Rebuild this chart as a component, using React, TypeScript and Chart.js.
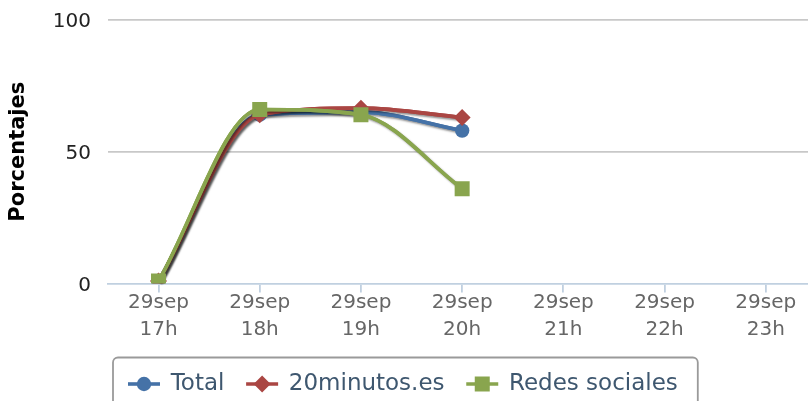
import React, { useEffect, useRef } from 'react';
import { Chart, registerables } from 'chart.js';

Chart.register(...registerables);

// ---- data ----
const dayLabels = ['29sep', '29sep', '29sep', '29sep', '29sep', '29sep', '29sep'];
const hourLabels = ['17h', '18h', '19h', '20h', '21h', '22h', '23h'];
const seriesNames = ['Total', '20minutos.es', 'Redes sociales'];
const totalValues = [1, 64, 65, 58, null, null, null];
const minutosValues = [1, 64, 66.5, 63, null, null, null];
const redesValues = [1, 66, 64, 36, null, null, null];
const yTickValues = [0, 50, 100];
const yAxisTitle = 'Porcentajes';

const seriesColors = ['#4572A7', '#AA4643', '#89A54E'];
const seriesPointStyles = ['circle', 'rectRot', 'rect'];
const seriesPointRadius = [7.2, 8.5, 10.6];

const FONT = '"DejaVu Sans", sans-serif';

function drawMarker(ctx: CanvasRenderingContext2D, style: string, x: number, y: number, r: number, color: string) {
  ctx.fillStyle = color;
  ctx.beginPath();
  if (style === 'circle') {
    ctx.arc(x, y, r, 0, Math.PI * 2);
  } else if (style === 'rectRot') {
    ctx.moveTo(x, y - r);
    ctx.lineTo(x + r, y);
    ctx.lineTo(x, y + r);
    ctx.lineTo(x - r, y);
    ctx.closePath();
  } else {
    const s = r * Math.SQRT1_2;
    ctx.rect(x - s, y - s, 2 * s, 2 * s);
  }
  ctx.fill();
}

const shadowPlugin = {
  id: 'lineShadow',
  beforeDatasetDraw(chart: any, args: any) {
    const line = args.meta && args.meta.dataset;
    if (!line) return;
    const ctx = chart.ctx;
    ctx.save();
    ctx.shadowColor = 'rgba(0,0,0,0.42)';
    ctx.shadowBlur = 2;
    ctx.shadowOffsetX = 2;
    ctx.shadowOffsetY = 2;
    line.draw(ctx, chart.chartArea);
    ctx.restore();
  },
};

const legendPlugin = {
  id: 'hcLegend',
  afterDraw(chart: any) {
    const ctx: CanvasRenderingContext2D = chart.ctx;
    ctx.save();
    ctx.font = `23px ${FONT}`;
    const boxLeft = 113;
    const boxTop = 357.5;
    const cy = 384;
    const symW = 32;
    const symGap = 10.7;
    const itemGap = 21.7;
    let x = boxLeft + 15;
    const items = chart.data.datasets.map((ds: any, i: number) => {
      const w = ctx.measureText(ds.label).width;
      const it = { x, label: ds.label, color: ds.borderColor, style: seriesPointStyles[i], r: seriesPointRadius[i] };
      x += symW + symGap + w + itemGap;
      return it;
    });
    const boxRight = x - itemGap + 20;
    ctx.lineWidth = 1.8;
    ctx.strokeStyle = '#9a9a9a';
    ctx.beginPath();
    (ctx as any).roundRect(boxLeft, boxTop, boxRight - boxLeft, 90, 5);
    ctx.stroke();
    items.forEach((it: any) => {
      ctx.strokeStyle = it.color;
      ctx.lineWidth = 3.6;
      ctx.beginPath();
      ctx.moveTo(it.x, cy);
      ctx.lineTo(it.x + symW, cy);
      ctx.stroke();
      drawMarker(ctx, it.style, it.x + symW / 2, cy, it.r, it.color);
      ctx.fillStyle = '#3E576F';
      ctx.textBaseline = 'middle';
      ctx.textAlign = 'left';
      ctx.fillText(it.label, it.x + symW + symGap, cy);
    });
    ctx.restore();
  },
};

export default function App() {
  const canvasRef = useRef<HTMLCanvasElement | null>(null);

  useEffect(() => {
    document.body.style.margin = '0';
    const canvas = canvasRef.current;
    if (!canvas) return;
    const labels = dayLabels.map((d, i) => [d, hourLabels[i]]);
    const valueSets = [totalValues, minutosValues, redesValues];
    const datasets = valueSets.map((vals, i) => ({
      label: seriesNames[i],
      data: vals,
      borderColor: seriesColors[i],
      backgroundColor: seriesColors[i],
      borderWidth: 3.6,
      pointStyle: seriesPointStyles[i],
      pointRadius: seriesPointRadius[i],
      pointHoverRadius: seriesPointRadius[i],
      pointBorderWidth: 0,
      pointBackgroundColor: seriesColors[i],
      cubicInterpolationMode: 'monotone',
      fill: false,
      order: valueSets.length - i,
      clip: { left: 30, top: 30, right: 30, bottom: 0 },
    }));

    const chart = new Chart(canvas, {
      type: 'line',
      data: { labels, datasets } as any,
      plugins: [shadowPlugin, legendPlugin],
      options: {
        responsive: false,
        animation: false,
        devicePixelRatio: 1,
        layout: { padding: { top: 19.8, left: 0, right: 13.6, bottom: 0 } },
        font: { family: FONT },
        plugins: {
          legend: { display: false },
          tooltip: { enabled: false },
        },
        scales: {
          x: {
            type: 'category',
            offset: true,
            grid: {
              offset: false,
              drawOnChartArea: false,
              drawTicks: true,
              tickLength: 9,
              color: '#C0D0E0',
              lineWidth: 1.8,
            },
            border: { display: true, color: '#C0D0E0', width: 1.8 },
            ticks: {
              color: '#666666',
              font: { family: FONT, size: 20, lineHeight: 1.37 },
              padding: -4,
              maxRotation: 0,
              autoSkip: false,
            },
            afterFit: (scale: any) => {
              scale.height = 401 - 283.6;
              scale.paddingLeft = 0;
              scale.paddingRight = 0;
            },
          },
          y: {
            min: 0,
            max: 100,
            afterBuildTicks: (scale: any) => {
              scale.ticks = yTickValues.map((v) => ({ value: v }));
            },
            grid: {
              drawTicks: false,
              color: (c: any) => (c.tick && c.tick.value === 0 ? 'rgba(0,0,0,0)' : '#C8C8C8'),
              lineWidth: 1.8,
            },
            border: { display: false },
            ticks: {
              color: '#222222',
              font: { family: FONT, size: 20 },
              padding: 17,
              labelOffset: 2,
            },
            title: {
              display: true,
              text: yAxisTitle,
              color: '#000000',
              font: { family: FONT, size: 21, weight: 'bold', lineHeight: 1.2 },
              padding: { top: 6, bottom: 0 },
            },
            afterFit: (scale: any) => {
              scale.width = 107.9;
              scale.paddingTop = 0;
              scale.paddingBottom = 0;
            },
          },
        },
      } as any,
    });
    return () => chart.destroy();
  }, []);

  return (
    <div style={{ width: 808, height: 401, overflow: 'hidden', position: 'relative' }}>
      <canvas ref={canvasRef} width={830} height={401} style={{ display: 'block' }} />
    </div>
  );
}
